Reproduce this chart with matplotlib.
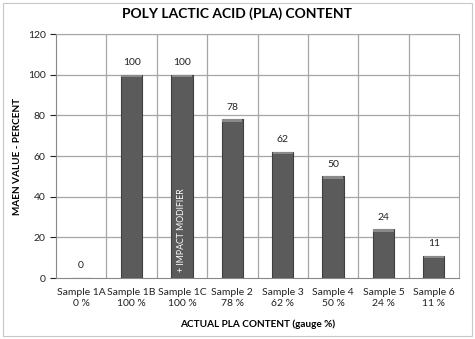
import matplotlib.pyplot as plt
from matplotlib.patches import Rectangle

samples = ['Sample 1A', 'Sample 1B', 'Sample 1C', 'Sample 2', 'Sample 3', 'Sample 4', 'Sample 5', 'Sample 6']
gauge = ['0 %', '100 %', '100 %', '78 %', '62 %', '50 %', '24 %', '11 %']
values = [0, 100, 100, 78, 62, 50, 24, 11]
value_labels = ['0', '100', '100', '78', '62', '50', '24', '11']

plt.rcParams['font.family'] = ['Lato', 'DejaVu Sans']

fig = plt.figure(figsize=(4.75, 3.39), dpi=100)
ax = fig.add_axes([56 / 475, 61 / 339, 403 / 475, 244 / 339])

x = list(range(len(samples)))
bars = ax.bar(x, values, width=0.42, color='#5b5b5b', edgecolor='#3f3f3f', linewidth=0.8, zorder=3)
# light top edge on each bar
ax.bar(x, [1.2 if v > 0 else 0 for v in values], bottom=[v - 1.2 for v in values], width=0.40,
       color='#8a8a8a', linewidth=0, zorder=4)

# value labels above bars
for xi, v, lab in zip(x, values, value_labels):
    ax.text(xi, v + 6, lab, ha='center', va='center', fontsize=7.5, color='#222222')

ax.text(2, 23.5, '+ IMPACT MODIFIER', rotation=90, ha='center', va='center',
        fontsize=6.3, color='white', zorder=5)

ax.set_xlim(-0.5, len(samples) - 0.5)
ax.set_ylim(0, 120)
ax.set_yticks(range(0, 121, 20))
ax.set_xticks(x)
ax.set_xticklabels([s + '\n' + g for s, g in zip(samples, gauge)], fontsize=7.5, color='#222222', linespacing=1.3)
ax.tick_params(axis='y', labelsize=7.5, colors='#222222', length=4, width=0.8)
ax.tick_params(axis='x', length=0, pad=7)

# gridlines: horizontal at ticks, vertical between categories
for yv in range(20, 121, 20):
    ax.axhline(yv, color='#a6a6a6', linewidth=0.9, zorder=1)
for b in range(1, len(samples)):
    ax.axvline(b - 0.5, color='#a6a6a6', linewidth=0.9, zorder=1)

for side in ['top', 'right']:
    ax.spines[side].set_color('#a6a6a6')
ax.spines['left'].set_color('#888888')
ax.spines['bottom'].set_color('#888888')

ax.set_ylabel('MAEN VALUE - PERCENT', fontsize=7.2, fontweight='bold')
ax.yaxis.set_label_coords(-0.084, 0.5)
ax.set_xlabel('ACTUAL PLA CONTENT (gauge %)', fontsize=7.2, fontweight='bold')
ax.xaxis.set_label_coords(0.5, -0.168)
fig.text(0.5, 1 - 14 / 339, 'POLY LACTIC ACID (PLA) CONTENT', ha='center', va='center',
         fontsize=10, fontweight='bold')

fig.patches.append(Rectangle((3 / 475, 3 / 339), 469 / 475, 333 / 339, transform=fig.transFigure,
                             fill=False, edgecolor='#c8c8c8', linewidth=0.8))

fig.savefig('out.png', dpi=100)
